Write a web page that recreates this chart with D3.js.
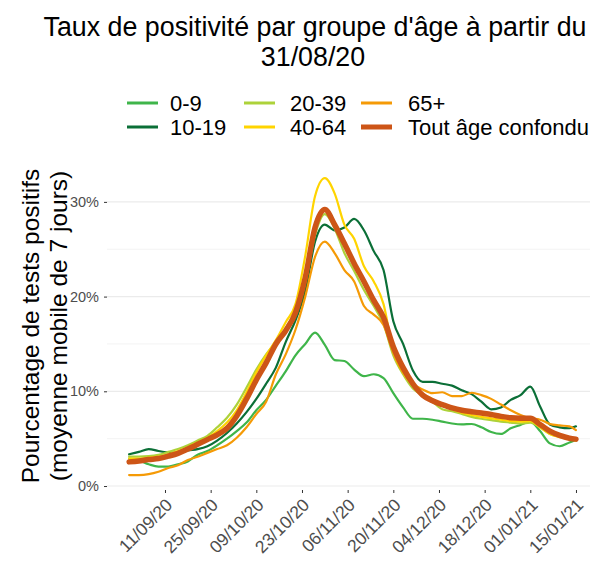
<!DOCTYPE html>
<html>
<head>
<meta charset="utf-8">
<script src="https://cdn.jsdelivr.net/npm/d3@7"></script>
<style>
  body { margin: 0; background: #fff; }
  svg { display: block; font-family: "Liberation Sans", Arial, sans-serif; }
</style>
</head>
<body>
<svg id="chart" width="597" height="565"></svg>
<script>
'use strict';

// days since 31/08/20, sampled every 3 days up to 15/01/21
const startDay = '31/08/20';
const dayOffsets = d3.range(0, 136, 3).concat([137]);

const seriesNames = ['0-9', '10-19', '20-39', '40-64', '65+', 'Tout âge confondu'];

const age0to9 = [2.9, 2.7, 2.3, 2.05, 2.05, 2.3, 2.6, 3.3, 3.7, 4.3, 5.0, 5.8, 6.7, 8.0, 9.1, 10.6,
  12.1, 13.8, 15.0, 16.2, 14.9, 13.3, 13.2, 12.3, 11.6, 11.8, 11.4, 9.8, 8.3, 7.1, 7.1, 7.0,
  6.8, 6.6, 6.5, 6.55, 6.2, 5.7, 5.5, 6.1, 6.45, 6.8, 5.8, 4.5, 4.2, 4.6, 4.85];
const age10to19 = [3.35, 3.6, 3.9, 3.7, 3.55, 3.5, 3.75, 3.9, 4.2, 4.8, 5.6, 6.6, 7.8, 9.2, 10.8, 12.5,
  15.2, 17.5, 20.6, 25.8, 27.6, 27.0, 27.3, 28.2, 27.0, 24.8, 22.8, 17.4, 15.0, 12.2, 11.0, 11.0,
  10.8, 10.6, 10.1, 9.7, 8.9, 8.1, 8.3, 9.1, 9.6, 10.5, 8.4, 6.5, 6.2, 6.1, 6.3];
const age20to39 = [3.1, 3.1, 3.15, 3.3, 3.6, 3.9, 4.3, 4.8, 5.3, 6.2, 7.2, 8.6, 10.4, 12.3, 13.9, 15.2,
  16.6, 18.5, 21.5, 26.5, 28.7, 27.2, 24.6, 22.7, 20.7, 19.0, 17.1, 13.8, 11.8, 10.3, 9.6, 8.9,
  8.1, 7.9, 7.6, 7.3, 7.1, 6.95, 6.8, 6.7, 6.6, 6.7, 6.2, 5.5, 5.2, 5.0, 4.85];
const age40to64 = [2.9, 2.9, 3.0, 3.1, 3.35, 3.7, 4.1, 4.6, 5.1, 5.8, 6.7, 8.0, 9.9, 12.0, 13.8, 15.4,
  17.3, 19.2, 24.3, 30.6, 32.5, 30.9, 27.6, 26.1, 23.2, 21.6, 19.2, 14.2, 12.0, 10.6, 9.7, 9.2,
  8.6, 8.1, 7.75, 7.5, 7.3, 7.15, 7.0, 6.85, 6.8, 6.85, 6.2, 5.5, 5.15, 4.95, 4.8];
const age65plus = [1.16, 1.16, 1.25, 1.5, 1.9, 2.2, 2.75, 3.1, 3.5, 3.9, 4.3, 5.1, 6.2, 7.6, 8.9, 11.8,
  13.9, 16.5, 20.0, 24.2, 25.8, 24.6, 22.8, 21.6, 19.0, 18.1, 17.0, 14.1, 12.0, 10.8, 10.2, 9.8,
  9.9, 9.5, 9.5, 9.85, 9.6, 9.2, 8.6, 8.0, 7.5, 7.15, 7.0, 6.55, 6.4, 6.3, 5.9];
const allAges = [2.55, 2.65, 2.8, 2.9, 3.15, 3.45, 3.9, 4.4, 4.9, 5.4, 6.1, 7.4, 9.2, 11.2, 13.0, 15.0,
  16.4, 18.3, 22.0, 27.3, 29.2, 27.6, 25.6, 23.5, 21.6, 19.6, 17.8, 14.7, 12.5, 10.8, 9.6, 9.0,
  8.6, 8.25, 8.0, 7.85, 7.7, 7.55, 7.35, 7.2, 7.15, 7.15, 6.5, 5.8, 5.35, 5.05, 4.95];

const xTickLabels = ['11/09/20', '25/09/20', '09/10/20', '23/10/20', '06/11/20',
  '20/11/20', '04/12/20', '18/12/20', '01/01/21', '15/01/21'];
const yTickValues = [0, 10, 20, 30];
const yMinorValues = [5, 15, 25];

const colors = ['#3fb54a', '#0b6f37', '#add23a', '#ffd400', '#f59a06', '#cd5517'];

const parseDay = d3.utcParse('%d/%m/%y');
const start = parseDay(startDay);
const dates = dayOffsets.map((d) => d3.utcDay.offset(start, d));
const values = [age0to9, age10to19, age20to39, age40to64, age65plus, allAges];

const panel = { left: 107, right: 590, top: 162, bottom: 490 };
const fontFamily = '"Liberation Sans", Arial, sans-serif';
const svg = d3.select('#chart');

// data spans 129..576 px; ggplot-like padding on both sides
const dayMs = 86400000;
const x = d3.scaleUtc()
  .domain([new Date(start.getTime() - 6.78 * dayMs), new Date(start.getTime() + 141.3 * dayMs)])
  .range([panel.left, panel.right]);
const y = d3.scaleLinear()
  .domain([-0.42, 34.21])
  .range([panel.bottom, panel.top]);

// grid
svg.append('g')
  .selectAll('line')
  .data(yMinorValues)
  .join('line')
  .attr('x1', panel.left).attr('x2', panel.right)
  .attr('y1', (d) => y(d)).attr('y2', (d) => y(d))
  .attr('stroke', '#f3f3f3').attr('stroke-width', 1);

svg.append('g')
  .selectAll('line')
  .data(yTickValues)
  .join('line')
  .attr('x1', panel.left).attr('x2', panel.right)
  .attr('y1', (d) => y(d)).attr('y2', (d) => y(d))
  .attr('stroke', '#ebebeb').attr('stroke-width', 1.2);

// y axis
const yAxis = svg.append('g')
  .attr('transform', `translate(${panel.left},0)`)
  .call(d3.axisLeft(y).tickValues(yTickValues).tickFormat((d) => `${d}%`).tickSize(3).tickPadding(5));
yAxis.select('.domain').remove();
yAxis.selectAll('line').attr('stroke', '#333');
yAxis.selectAll('text')
  .attr('fill', '#4d4d4d')
  .style('font-size', '14.5px')
  .style('font-family', fontFamily);

// x axis
const xAxis = svg.append('g')
  .attr('transform', `translate(0,${panel.bottom})`)
  .call(d3.axisBottom(x).tickValues(xTickLabels.map(parseDay)).tickFormat(d3.utcFormat('%d/%m/%y')).tickSize(3));
xAxis.select('.domain').remove();
xAxis.selectAll('line').attr('stroke', '#333');
xAxis.selectAll('text')
  .attr('fill', '#4d4d4d')
  .attr('text-anchor', 'end')
  .attr('y', 0).attr('dy', 0)
  .attr('transform', 'translate(8,16) rotate(-45)')
  .style('font-size', '17.5px')
  .style('font-family', fontFamily);

// lines
const line = d3.line()
  .x((d) => x(d.date))
  .y((d) => y(d.value))
  .curve(d3.curveMonotoneX);

const series = seriesNames.map((name, i) => ({
  name,
  color: colors[i],
  width: i === 5 ? 5.5 : 2.2,
  points: dates.map((date, j) => ({ date, value: values[i][j] }))
}));

svg.append('g')
  .selectAll('path')
  .data(series)
  .join('path')
  .attr('fill', 'none')
  .attr('stroke', (d) => d.color)
  .attr('stroke-width', (d) => d.width)
  .attr('stroke-linejoin', 'round')
  .attr('stroke-linecap', 'round')
  .attr('d', (d) => line(d.points));

// title
const title = svg.append('text')
  .attr('text-anchor', 'middle')
  .attr('fill', '#000')
  .style('font-size', '26.8px');
title.append('tspan').attr('x', 315).attr('y', 36).text("Taux de positivité par groupe d'âge à partir du");
title.append('tspan').attr('x', 313).attr('y', 66).text('31/08/20');

// legend, filled column by column
const legendCols = [{ key: 127, label: 170 }, { key: 244, label: 290 }, { key: 361, label: 408 }];
const legendRows = [103, 127];
const legend = svg.append('g')
  .selectAll('g')
  .data(series)
  .join('g')
  .attr('transform', (d, i) => `translate(0,${legendRows[i % 2]})`);
legend.append('line')
  .attr('x1', (d, i) => legendCols[Math.floor(i / 2)].key)
  .attr('x2', (d, i) => legendCols[Math.floor(i / 2)].key + 31)
  .attr('stroke', (d) => d.color)
  .attr('stroke-width', (d, i) => (i === 5 ? 5 : 3));
legend.append('text')
  .attr('x', (d, i) => legendCols[Math.floor(i / 2)].label)
  .attr('dy', '0.36em')
  .attr('fill', '#000')
  .style('font-size', '22px')
  .text((d) => d.name);

// y axis title
const yTitle = svg.append('text')
  .attr('transform', `translate(0,${(panel.top + panel.bottom) / 2}) rotate(-90)`)
  .attr('text-anchor', 'middle')
  .attr('fill', '#000')
  .style('font-size', '24.5px');
yTitle.append('tspan').attr('x', 0).attr('y', 39).text('Pourcentage de tests positifs');
yTitle.append('tspan').attr('x', 0).attr('y', 67).text('(moyenne mobile de 7 jours)');
</script>
</body>
</html>
